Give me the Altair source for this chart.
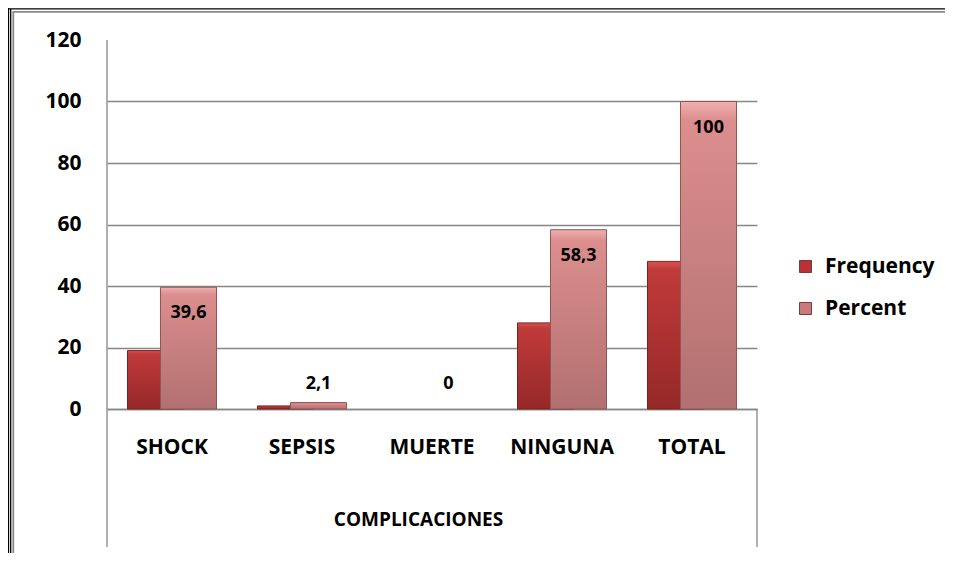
import altair as alt
import pandas as pd

categories = ["SHOCK", "SEPSIS", "MUERTE", "NINGUNA", "TOTAL"]
frequency = [19, 1, 0, 28, 48]
percent = [39.6, 2.1, 0, 58.3, 100]
series = ["Frequency", "Percent"]
y_ticks = [0, 20, 40, 60, 80, 100, 120]

df = pd.DataFrame({"cat": categories, "Frequency": frequency, "Percent": percent})
frame_df = pd.DataFrame({"k": [0]})

FONT = "Open Sans"
W, H = 650, 369
GRID = "#868686"

x_enc = alt.X(
    "cat:N", sort=categories,
    scale=alt.Scale(paddingInner=0, paddingOuter=0),
    axis=alt.Axis(title="COMPLICACIONES", labelAngle=0, ticks=False, domain=True,
                  domainColor=GRID, domainWidth=1.3, labelPadding=27,
                  labelFont=FONT, labelFontSize=21, labelFontWeight="bold", labelColor="black",
                  titleFont=FONT, titleFontSize=19, titleFontWeight="bold", titleColor="black",
                  titleX=311, titleY=110, titleBaseline="middle", titleAnchor="middle"),
)
y_scale = alt.Scale(domain=[0, 120], nice=False)
y_axis = alt.Axis(values=y_ticks, title=None, grid=True, gridColor=GRID, gridWidth=1.3,
                  gridOpacity=alt.ExprRef(expr="datum.value === 120 ? 0 : 1"),
                  domain=False, ticks=False, labelPadding=26,
                  labelFont=FONT, labelFontSize=21, labelFontWeight="bold", labelColor="black")

freq_grad = alt.Gradient(gradient="linear", x1=0, x2=0, y1=0, y2=1, stops=[
    alt.GradientStop(color="#D85252", offset=0),
    alt.GradientStop(color="#C03A3A", offset=0.06),
    alt.GradientStop(color="#962828", offset=1)])
pct_grad = alt.Gradient(gradient="linear", x1=0, x2=0, y1=0, y2=1, stops=[
    alt.GradientStop(color="#F0B0B0", offset=0),
    alt.GradientStop(color="#DC8E8E", offset=0.06),
    alt.GradientStop(color="#B27070", offset=1)])

base = alt.Chart(df)

freq_bar = base.transform_filter("datum.Frequency > 0").mark_bar(
    width=56, xOffset=-16.5, fill=freq_grad, stroke="#7A2222", strokeWidth=1).encode(
    x=x_enc, y=alt.Y("Frequency:Q", scale=y_scale, axis=y_axis))
pct_bar = base.transform_filter("datum.Percent > 0").mark_bar(
    width=56, xOffset=16.5, fill=pct_grad, stroke="#8E5656", strokeWidth=1).encode(
    x=x_enc, y=alt.Y("Percent:Q", scale=y_scale, axis=y_axis))

lbl_expr = "replace(toString(datum.Percent), '.', ',')"
big_lbl = base.transform_filter("datum.Percent >= 10").transform_calculate(
    lbl=lbl_expr).mark_text(xOffset=16.5, dy=26, baseline="middle", font=FONT,
                            fontSize=18, fontWeight="bold", color="black").encode(
    x=x_enc, y=alt.Y("Percent:Q", scale=y_scale, axis=y_axis), text="lbl:N")
small_lbl = base.transform_filter("datum.Percent < 10").transform_calculate(
    lbl=lbl_expr, zero="0").mark_text(xOffset=16.5, dy=-25, baseline="middle", font=FONT,
                                       fontSize=18, fontWeight="bold", color="black").encode(
    x=x_enc, y=alt.Y("zero:Q", scale=y_scale, axis=y_axis), text="lbl:N")

legend_layer = base.transform_fold(series, as_=["series", "value"]).mark_square(
    opacity=0).encode(
    x=x_enc, y=alt.Y("value:Q", scale=y_scale, axis=y_axis),
    color=alt.Color("series:N", scale=alt.Scale(domain=series, range=["#B83333", "#C97B7B"]),
                    legend=alt.Legend(title=None, orient="none", legendX=688, legendY=216,
                                      symbolType="square", symbolSize=144, symbolOpacity=1,
                                      symbolStrokeWidth=1, symbolStrokeColor="#7A3A3A",
                                      labelFont=FONT, labelFontSize=21, labelFontWeight="bold",
                                      labelColor="black", labelOffset=9, rowPadding=20,
                                      padding=0)))

def vrule(x, y1, y2, color, sw):
    return alt.Chart(frame_df).mark_rule(color=color, strokeWidth=sw).encode(
        x=alt.value(x), y=alt.value(y1), y2=alt.value(y2))

def hrule(y, x1, x2, color, sw):
    return alt.Chart(frame_df).mark_rule(color=color, strokeWidth=sw).encode(
        y=alt.value(y), x=alt.value(x1), x2=alt.value(x2))

decor = [
    vrule(0, 0, 507, GRID, 1.3),
    vrule(W, H, 507, GRID, 1.3),
    vrule(-98.5, -32, 513, "black", 1.3),
    vrule(-96.3, -31.2, 513, "black", 1.3),
    hrule(-31.2, -98.5, 838, "black", 1.3),
    vrule(-93.7, -28.2, 513, "#8A8A8A", 1.8),
    hrule(-28.2, -94.5, 838, "#8A8A8A", 1.8),
]

chart = alt.layer(freq_bar, pct_bar, big_lbl, small_lbl, legend_layer, *decor).properties(
    width=W, height=H, autosize="none",
    padding={"left": 99, "top": 32, "right": 188, "bottom": 144},
    background="white",
).configure_view(stroke=None)

chart.save("out.html", embed_options={"renderer": "svg", "actions": False})
